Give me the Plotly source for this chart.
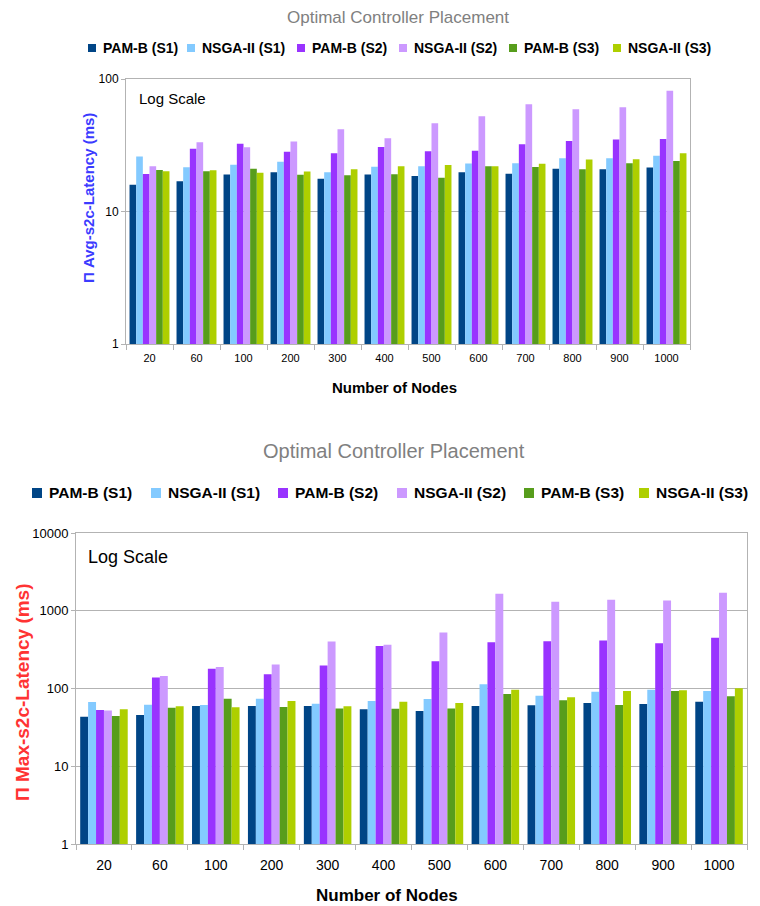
import plotly.graph_objects as go

nodes = ["20", "60", "100", "200", "300", "400", "500", "600", "700", "800", "900", "1000"]
series_names = ["PAM-B (S1)", "NSGA-II (S1)", "PAM-B (S2)", "NSGA-II (S2)", "PAM-B (S3)", "NSGA-II (S3)"]
colors = ["#004586", "#83caff", "#9933ff", "#cc99ff", "#579d1c", "#aecf00"]

# Top chart: average switch-to-controller latency (ms)
avg_pamb_s1 = [15.9, 16.9, 19.0, 19.8, 17.7, 19.0, 18.5, 19.8, 19.3, 21.0, 20.8, 21.5]
avg_nsga_s1 = [26.0, 21.6, 22.5, 23.7, 19.8, 21.8, 22.0, 23.0, 23.1, 25.2, 25.2, 26.3]
avg_pamb_s2 = [19.2, 29.8, 32.4, 28.2, 27.5, 30.7, 28.5, 28.7, 32.2, 34.1, 34.9, 35.3]
avg_nsga_s2 = [22.0, 33.3, 30.5, 33.7, 41.8, 35.7, 46.3, 52.3, 64.4, 59.1, 61.1, 81.7]
avg_pamb_s3 = [20.6, 20.1, 21.0, 18.9, 18.8, 19.1, 18.0, 22.0, 21.7, 20.8, 23.1, 24.1]
avg_nsga_s3 = [20.1, 20.5, 19.6, 20.0, 20.8, 22.0, 22.4, 22.0, 22.9, 24.7, 24.8, 27.5]

# Bottom chart: maximum switch-to-controller latency (ms)
max_pamb_s1 = [43.4, 45.5, 59.5, 59.5, 59.5, 53.9, 51.3, 59.5, 60.7, 65.0, 63.1, 67.6]
max_nsga_s1 = [67.0, 61.9, 61.3, 73.9, 63.8, 69.0, 73.2, 113, 80.9, 91.0, 96.6, 92.9]
max_pamb_s2 = [52.8, 138, 180, 152, 197, 353, 224, 394, 405, 414, 382, 448]
max_nsga_s2 = [52.0, 145, 189, 203, 402, 364, 524, 1652, 1303, 1383, 1356, 1702]
max_pamb_s3 = [44.2, 56.6, 73.9, 57.8, 55.5, 55.0, 55.5, 85.0, 70.4, 61.3, 92.9, 79.3]
max_nsga_s3 = [53.9, 58.9, 57.2, 69.0, 58.9, 67.6, 65.0, 96.6, 76.9, 92.9, 94.7, 100.5]

y_tick_top = [1, 10, 100]
y_tick_bottom = [1, 10, 100, 1000, 10000]

avg_series = [avg_pamb_s1, avg_nsga_s1, avg_pamb_s2, avg_nsga_s2, avg_pamb_s3, avg_nsga_s3]
max_series = [max_pamb_s1, max_nsga_s1, max_pamb_s2, max_nsga_s2, max_pamb_s3, max_nsga_s3]

# page body has an 8px margin; lay out in window pixels and convert
OFF = 8
W, H = 760 - OFF, 906 - OFF
FONT = "Liberation Sans, Arial, sans-serif"
GRID = "#b3b3b3"


def px_x(p):
    return (p - OFF) / W


def px_y(p):
    return 1 - (p - OFF) / H


fig = go.Figure()
for name, col, vals in zip(series_names, colors, avg_series):
    fig.add_trace(go.Bar(x=nodes, y=vals, name=name, marker=dict(color=col, line=dict(width=0)),
                         xaxis="x", yaxis="y", showlegend=False))
for name, col, vals in zip(series_names, colors, max_series):
    fig.add_trace(go.Bar(x=nodes, y=vals, name=name, marker=dict(color=col, line=dict(width=0)),
                         xaxis="x2", yaxis="y2", showlegend=False))

common_x = dict(type="category", showgrid=False, showline=True, linecolor=GRID, mirror=True,
                ticks="outside", tickson="boundaries", tickcolor=GRID, ticklen=5,
                automargin=False)
common_y = dict(type="log", showgrid=True, gridcolor=GRID, showline=True, linecolor=GRID, mirror=True,
                ticks="outside", tickcolor=GRID, ticklen=4, zeroline=False, automargin=False)

annotations = [
    dict(text="Optimal Controller Placement", x=px_x(398), y=px_y(17)),
    dict(text="Optimal Controller Placement", x=px_x(394), y=px_y(451)),
]
for a, s in zip(annotations, [17, 20]):
    a.update(xref="paper", yref="paper", showarrow=False, xanchor="center", yanchor="middle",
             font=dict(size=s, color="#808080", family=FONT))

annotations += [
    dict(text="Log Scale", x=px_x(137), y=px_y(98), xref="paper", yref="paper",
         showarrow=False, xanchor="left", yanchor="middle", font=dict(size=15, family=FONT, color="#000")),
    dict(text="Log Scale", x=px_x(86), y=px_y(557), xref="paper", yref="paper",
         showarrow=False, xanchor="left", yanchor="middle", font=dict(size=18, family=FONT, color="#000")),
    dict(text="<b>Π Avg-s2c-Latency (ms)</b>", x=px_x(88), y=px_y(198), xref="paper", yref="paper",
         textangle=-90, showarrow=False, xanchor="center", yanchor="middle",
         font=dict(size=15, family=FONT, color="#3b3bff")),
    dict(text="<b>Π Max-s2c-Latency (ms)</b>", x=px_x(22), y=px_y(692), xref="paper", yref="paper",
         textangle=-90, showarrow=False, xanchor="center", yanchor="middle",
         font=dict(size=19, family=FONT, color="#ff3333")),
    dict(text="<b>Number of Nodes</b>", x=px_x(394), y=px_y(387), xref="paper", yref="paper",
         showarrow=False, xanchor="center", yanchor="middle", font=dict(size=15, family=FONT, color="#000")),
    dict(text="<b>Number of Nodes</b>", x=px_x(387), y=px_y(895), xref="paper", yref="paper",
         showarrow=False, xanchor="center", yanchor="middle", font=dict(size=17, family=FONT, color="#000")),
]

# Legends (drawn from series_names / colors)
shapes = []
legend_specs = [
    dict(starts=[88, 187, 297, 399, 509, 613], yc=48, sq=8, gap=5, size=14),
    dict(starts=[32, 151, 278, 397, 524, 639], yc=493, sq=10, gap=5, size=15.5),
]
for spec in legend_specs:
    for name, col, x0 in zip(series_names, colors, spec["starts"]):
        half = spec["sq"] / 2
        shapes.append(dict(type="rect", xref="paper", yref="paper",
                           x0=px_x(x0), x1=px_x(x0 + spec["sq"]),
                           y0=px_y(spec["yc"] + half), y1=px_y(spec["yc"] - half),
                           fillcolor=col, line=dict(width=0)))
        annotations.append(dict(text="<b>" + name + "</b>", x=px_x(x0 + spec["sq"] + spec["gap"]),
                                y=px_y(spec["yc"]), xref="paper", yref="paper", showarrow=False,
                                xanchor="left", yanchor="middle",
                                font=dict(size=spec["size"], family=FONT, color="#000")))

fig.update_layout(
    width=W, height=H,
    margin=dict(l=0, r=0, t=0, b=0),
    paper_bgcolor="white", plot_bgcolor="white",
    barmode="group", bargap=0.15, bargroupgap=0,
    font=dict(family=FONT, color="#000000"),
    showlegend=False,
    xaxis=dict(common_x, domain=[px_x(126), px_x(690)], anchor="y",
               tickfont=dict(size=11, family=FONT), ticklabelstandoff=4),
    yaxis=dict(common_y, domain=[px_y(344), px_y(79)], anchor="x", range=[0, 2],
               tickvals=y_tick_top, ticktext=[str(v) for v in y_tick_top],
               tickfont=dict(size=12, family=FONT)),
    xaxis2=dict(common_x, domain=[px_x(76), px_x(747)], anchor="y2",
                tickfont=dict(size=14, family=FONT), ticklabelstandoff=8),
    yaxis2=dict(common_y, domain=[px_y(844), px_y(533)], anchor="x2", range=[0, 4],
                tickvals=y_tick_bottom, ticktext=[str(v) for v in y_tick_bottom],
                tickfont=dict(size=13, family=FONT)),
    annotations=annotations,
    shapes=shapes,
)

fig.write_html("out.html")
